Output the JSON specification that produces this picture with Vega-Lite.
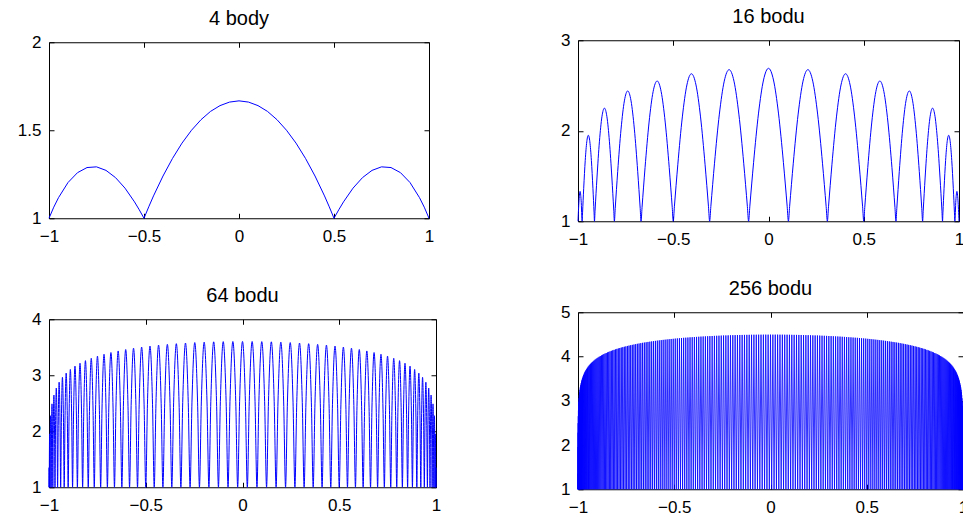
{
"$schema":"https://vega.github.io/schema/vega-lite/v6.json",
"background":"white",
"padding":{"left":16,"top":6,"right":0,"bottom":0},
"config":{
"font":"Liberation Sans",
"view":{"stroke":"black","strokeWidth":1},
"axis":{"domain":false,"grid":false,"ticks":true,"tickSize":-5,"tickColor":"black","tickWidth":1,"labelFont":"Liberation Sans","labelFontSize":17,"labelColor":"black","title":null,"labelPadding":13,"labelFlush":false,"labelOverlap":false,"labelBound":false},
"axisX":{"labelPadding":15},
"title":{"font":"Liberation Sans","fontSize":20,"fontWeight":"normal","color":"black","baseline":"alphabetic","offset":4,"anchor":"middle"}
},
"datasets":{
"d4":[{"x":-1,"y":1},{"x":-0.975,"y":1.063},{"x":-0.95,"y":1.117},{"x":-0.9,"y":1.203},{"x":-0.85,"y":1.259},{"x":-0.8,"y":1.288},{"x":-0.75,"y":1.292},{"x":-0.7,"y":1.272},{"x":-0.65,"y":1.231},{"x":-0.6,"y":1.171},{"x":-0.55,"y":1.093},{"x":-0.525,"y":1.048},{"x":-0.5,"y":1},{"x":-0.475,"y":1.065},{"x":-0.45,"y":1.127},{"x":-0.4,"y":1.24},{"x":-0.35,"y":1.34},{"x":-0.3,"y":1.427},{"x":-0.25,"y":1.5},{"x":-0.2,"y":1.56},{"x":-0.15,"y":1.607},{"x":-0.1,"y":1.64},{"x":-0.05,"y":1.66},{"x":0,"y":1.667},{"x":0.05,"y":1.66},{"x":0.1,"y":1.64},{"x":0.15,"y":1.607},{"x":0.2,"y":1.56},{"x":0.25,"y":1.5},{"x":0.3,"y":1.427},{"x":0.35,"y":1.34},{"x":0.4,"y":1.24},{"x":0.45,"y":1.127},{"x":0.475,"y":1.065},{"x":0.5,"y":1},{"x":0.525,"y":1.048},{"x":0.55,"y":1.093},{"x":0.6,"y":1.171},{"x":0.65,"y":1.231},{"x":0.7,"y":1.272},{"x":0.75,"y":1.292},{"x":0.8,"y":1.288},{"x":0.85,"y":1.259},{"x":0.9,"y":1.203},{"x":0.95,"y":1.117},{"x":0.975,"y":1.063},{"x":1,"y":1}],
"d16":[{"x":-1,"y":1},{"x":-0.99454,"y":1.233},{"x":-0.98908,"y":1.33},{"x":-0.98361,"y":1.233},{"x":-0.97815,"y":1},{"x":-0.97613,"y":1.093},{"x":-0.97008,"y":1.364},{"x":-0.962,"y":1.672},{"x":-0.95393,"y":1.878},{"x":-0.94585,"y":1.95},{"x":-0.93778,"y":1.878},{"x":-0.9297,"y":1.672},{"x":-0.92163,"y":1.364},{"x":-0.91557,"y":1.093},{"x":-0.91355,"y":1},{"x":-0.91028,"y":1.123},{"x":-0.90048,"y":1.478},{"x":-0.88742,"y":1.884},{"x":-0.87435,"y":2.155},{"x":-0.86129,"y":2.25},{"x":-0.84822,"y":2.155},{"x":-0.83516,"y":1.884},{"x":-0.82209,"y":1.478},{"x":-0.81229,"y":1.123},{"x":-0.80902,"y":1},{"x":-0.80465,"y":1.141},{"x":-0.79153,"y":1.551},{"x":-0.77405,"y":2.018},{"x":-0.75656,"y":2.33},{"x":-0.73908,"y":2.44},{"x":-0.72159,"y":2.33},{"x":-0.7041,"y":2.018},{"x":-0.68662,"y":1.551},{"x":-0.6735,"y":1.141},{"x":-0.66913,"y":1},{"x":-0.66385,"y":1.152},{"x":-0.64799,"y":1.593},{"x":-0.62685,"y":2.096},{"x":-0.60571,"y":2.432},{"x":-0.58457,"y":2.55},{"x":-0.56342,"y":2.432},{"x":-0.54228,"y":2.096},{"x":-0.52114,"y":1.593},{"x":-0.50529,"y":1.152},{"x":-0.5,"y":1},{"x":-0.49403,"y":1.16},{"x":-0.47613,"y":1.624},{"x":-0.45225,"y":2.153},{"x":-0.42838,"y":2.506},{"x":-0.40451,"y":2.63},{"x":-0.38064,"y":2.506},{"x":-0.35676,"y":2.153},{"x":-0.33289,"y":1.624},{"x":-0.31499,"y":1.16},{"x":-0.30902,"y":1},{"x":-0.30263,"y":1.164},{"x":-0.28346,"y":1.641},{"x":-0.2579,"y":2.184},{"x":-0.23233,"y":2.548},{"x":-0.20677,"y":2.675},{"x":-0.18121,"y":2.548},{"x":-0.15565,"y":2.184},{"x":-0.13009,"y":1.641},{"x":-0.11092,"y":1.164},{"x":-0.10453,"y":1},{"x":-0.098,"y":1.166},{"x":-0.0784,"y":1.647},{"x":-0.05227,"y":2.195},{"x":-0.02613,"y":2.561},{"x":0,"y":2.69},{"x":0.02613,"y":2.561},{"x":0.05227,"y":2.195},{"x":0.0784,"y":1.647},{"x":0.098,"y":1.166},{"x":0.10453,"y":1},{"x":0.11092,"y":1.164},{"x":0.13009,"y":1.641},{"x":0.15565,"y":2.184},{"x":0.18121,"y":2.548},{"x":0.20677,"y":2.675},{"x":0.23233,"y":2.548},{"x":0.2579,"y":2.184},{"x":0.28346,"y":1.641},{"x":0.30263,"y":1.164},{"x":0.30902,"y":1},{"x":0.31499,"y":1.16},{"x":0.33289,"y":1.624},{"x":0.35676,"y":2.153},{"x":0.38064,"y":2.506},{"x":0.40451,"y":2.63},{"x":0.42838,"y":2.506},{"x":0.45225,"y":2.153},{"x":0.47613,"y":1.624},{"x":0.49403,"y":1.16},{"x":0.5,"y":1},{"x":0.50529,"y":1.152},{"x":0.52114,"y":1.593},{"x":0.54228,"y":2.096},{"x":0.56342,"y":2.432},{"x":0.58457,"y":2.55},{"x":0.60571,"y":2.432},{"x":0.62685,"y":2.096},{"x":0.64799,"y":1.593},{"x":0.66385,"y":1.152},{"x":0.66913,"y":1},{"x":0.6735,"y":1.141},{"x":0.68662,"y":1.551},{"x":0.7041,"y":2.018},{"x":0.72159,"y":2.33},{"x":0.73908,"y":2.44},{"x":0.75656,"y":2.33},{"x":0.77405,"y":2.018},{"x":0.79153,"y":1.551},{"x":0.80465,"y":1.141},{"x":0.80902,"y":1},{"x":0.81229,"y":1.123},{"x":0.82209,"y":1.478},{"x":0.83516,"y":1.884},{"x":0.84822,"y":2.155},{"x":0.86129,"y":2.25},{"x":0.87435,"y":2.155},{"x":0.88742,"y":1.884},{"x":0.90048,"y":1.478},{"x":0.91028,"y":1.123},{"x":0.91355,"y":1},{"x":0.91557,"y":1.093},{"x":0.92163,"y":1.364},{"x":0.9297,"y":1.672},{"x":0.93778,"y":1.878},{"x":0.94585,"y":1.95},{"x":0.95393,"y":1.878},{"x":0.962,"y":1.672},{"x":0.97008,"y":1.364},{"x":0.97613,"y":1.093},{"x":0.97815,"y":1},{"x":0.98361,"y":1.233},{"x":0.98908,"y":1.33},{"x":0.99454,"y":1.233},{"x":1,"y":1}],
"d64":[{"x":-1,"y":1},{"x":-0.99975,"y":1.206},{"x":-0.99938,"y":1.35},{"x":-0.99901,"y":1.206},{"x":-0.99876,"y":1},{"x":-0.99801,"y":1.56},{"x":-0.99689,"y":1.953},{"x":-0.99578,"y":1.56},{"x":-0.99503,"y":1},{"x":-0.99379,"y":1.751},{"x":-0.99193,"y":2.277},{"x":-0.99007,"y":1.751},{"x":-0.98883,"y":1},{"x":-0.9871,"y":1.875},{"x":-0.9845,"y":2.489},{"x":-0.9819,"y":1.875},{"x":-0.98017,"y":1},{"x":-0.97795,"y":1.968},{"x":-0.97463,"y":2.647},{"x":-0.9713,"y":1.968},{"x":-0.96908,"y":1},{"x":-0.96638,"y":2.042},{"x":-0.96233,"y":2.772},{"x":-0.95828,"y":2.042},{"x":-0.95558,"y":1},{"x":-0.9524,"y":2.103},{"x":-0.94764,"y":2.876},{"x":-0.94287,"y":2.103},{"x":-0.93969,"y":1},{"x":-0.93605,"y":2.154},{"x":-0.93059,"y":2.963},{"x":-0.92512,"y":2.154},{"x":-0.92148,"y":1},{"x":-0.91738,"y":2.198},{"x":-0.91122,"y":3.038},{"x":-0.90507,"y":2.198},{"x":-0.90097,"y":1},{"x":-0.89642,"y":2.237},{"x":-0.8896,"y":3.104},{"x":-0.88277,"y":2.237},{"x":-0.87822,"y":1},{"x":-0.87324,"y":2.271},{"x":-0.86576,"y":3.163},{"x":-0.85828,"y":2.271},{"x":-0.85329,"y":1},{"x":-0.84788,"y":2.302},{"x":-0.83977,"y":3.215},{"x":-0.83165,"y":2.302},{"x":-0.82624,"y":1},{"x":-0.82042,"y":2.329},{"x":-0.81169,"y":3.261},{"x":-0.80296,"y":2.329},{"x":-0.79714,"y":1},{"x":-0.79092,"y":2.354},{"x":-0.78159,"y":3.303},{"x":-0.77226,"y":2.354},{"x":-0.76604,"y":1},{"x":-0.75945,"y":2.376},{"x":-0.74955,"y":3.341},{"x":-0.73965,"y":2.376},{"x":-0.73305,"y":1},{"x":-0.72609,"y":2.396},{"x":-0.71564,"y":3.375},{"x":-0.7052,"y":2.396},{"x":-0.69824,"y":1},{"x":-0.69093,"y":2.414},{"x":-0.67996,"y":3.406},{"x":-0.669,"y":2.414},{"x":-0.66169,"y":1},{"x":-0.65405,"y":2.431},{"x":-0.64259,"y":3.434},{"x":-0.63113,"y":2.431},{"x":-0.62349,"y":1},{"x":-0.61554,"y":2.446},{"x":-0.60362,"y":3.46},{"x":-0.59169,"y":2.446},{"x":-0.58374,"y":1},{"x":-0.57551,"y":2.46},{"x":-0.56315,"y":3.483},{"x":-0.55079,"y":2.46},{"x":-0.54255,"y":1},{"x":-0.53404,"y":2.471},{"x":-0.52127,"y":3.503},{"x":-0.50851,"y":2.471},{"x":-0.5,"y":1},{"x":-0.49124,"y":2.482},{"x":-0.47811,"y":3.521},{"x":-0.46497,"y":2.482},{"x":-0.45621,"y":1},{"x":-0.44723,"y":2.492},{"x":-0.43375,"y":3.538},{"x":-0.42027,"y":2.492},{"x":-0.41129,"y":1},{"x":-0.4021,"y":2.5},{"x":-0.38832,"y":3.552},{"x":-0.37453,"y":2.5},{"x":-0.36534,"y":1},{"x":-0.35597,"y":2.507},{"x":-0.34192,"y":3.564},{"x":-0.32786,"y":2.507},{"x":-0.31849,"y":1},{"x":-0.30896,"y":2.514},{"x":-0.29466,"y":3.575},{"x":-0.28037,"y":2.514},{"x":-0.27084,"y":1},{"x":-0.26118,"y":2.519},{"x":-0.24668,"y":3.584},{"x":-0.23218,"y":2.519},{"x":-0.22252,"y":1},{"x":-0.21275,"y":2.523},{"x":-0.19808,"y":3.591},{"x":-0.18342,"y":2.523},{"x":-0.17365,"y":1},{"x":-0.16379,"y":2.527},{"x":-0.149,"y":3.597},{"x":-0.13421,"y":2.527},{"x":-0.12434,"y":1},{"x":-0.11442,"y":2.529},{"x":-0.09954,"y":3.601},{"x":-0.08465,"y":2.529},{"x":-0.07473,"y":1},{"x":-0.06477,"y":2.53},{"x":-0.04983,"y":3.603},{"x":-0.03489,"y":2.53},{"x":-0.02493,"y":1},{"x":-0.01496,"y":2.531},{"x":0,"y":3.604},{"x":0.01496,"y":2.531},{"x":0.02493,"y":1},{"x":0.03489,"y":2.53},{"x":0.04983,"y":3.603},{"x":0.06477,"y":2.53},{"x":0.07473,"y":1},{"x":0.08465,"y":2.529},{"x":0.09954,"y":3.601},{"x":0.11442,"y":2.529},{"x":0.12434,"y":1},{"x":0.13421,"y":2.527},{"x":0.149,"y":3.597},{"x":0.16379,"y":2.527},{"x":0.17365,"y":1},{"x":0.18342,"y":2.523},{"x":0.19808,"y":3.591},{"x":0.21275,"y":2.523},{"x":0.22252,"y":1},{"x":0.23218,"y":2.519},{"x":0.24668,"y":3.584},{"x":0.26118,"y":2.519},{"x":0.27084,"y":1},{"x":0.28037,"y":2.514},{"x":0.29466,"y":3.575},{"x":0.30896,"y":2.514},{"x":0.31849,"y":1},{"x":0.32786,"y":2.507},{"x":0.34192,"y":3.564},{"x":0.35597,"y":2.507},{"x":0.36534,"y":1},{"x":0.37453,"y":2.5},{"x":0.38832,"y":3.552},{"x":0.4021,"y":2.5},{"x":0.41129,"y":1},{"x":0.42027,"y":2.492},{"x":0.43375,"y":3.538},{"x":0.44723,"y":2.492},{"x":0.45621,"y":1},{"x":0.46497,"y":2.482},{"x":0.47811,"y":3.521},{"x":0.49124,"y":2.482},{"x":0.5,"y":1},{"x":0.50851,"y":2.471},{"x":0.52127,"y":3.503},{"x":0.53404,"y":2.471},{"x":0.54255,"y":1},{"x":0.55079,"y":2.46},{"x":0.56315,"y":3.483},{"x":0.57551,"y":2.46},{"x":0.58374,"y":1},{"x":0.59169,"y":2.446},{"x":0.60362,"y":3.46},{"x":0.61554,"y":2.446},{"x":0.62349,"y":1},{"x":0.63113,"y":2.431},{"x":0.64259,"y":3.434},{"x":0.65405,"y":2.431},{"x":0.66169,"y":1},{"x":0.669,"y":2.414},{"x":0.67996,"y":3.406},{"x":0.69093,"y":2.414},{"x":0.69824,"y":1},{"x":0.7052,"y":2.396},{"x":0.71564,"y":3.375},{"x":0.72609,"y":2.396},{"x":0.73305,"y":1},{"x":0.73965,"y":2.376},{"x":0.74955,"y":3.341},{"x":0.75945,"y":2.376},{"x":0.76604,"y":1},{"x":0.77226,"y":2.354},{"x":0.78159,"y":3.303},{"x":0.79092,"y":2.354},{"x":0.79714,"y":1},{"x":0.80296,"y":2.329},{"x":0.81169,"y":3.261},{"x":0.82042,"y":2.329},{"x":0.82624,"y":1},{"x":0.83165,"y":2.302},{"x":0.83977,"y":3.215},{"x":0.84788,"y":2.302},{"x":0.85329,"y":1},{"x":0.85828,"y":2.271},{"x":0.86576,"y":3.163},{"x":0.87324,"y":2.271},{"x":0.87822,"y":1},{"x":0.88277,"y":2.237},{"x":0.8896,"y":3.104},{"x":0.89642,"y":2.237},{"x":0.90097,"y":1},{"x":0.90507,"y":2.198},{"x":0.91122,"y":3.038},{"x":0.91738,"y":2.198},{"x":0.92148,"y":1},{"x":0.92512,"y":2.154},{"x":0.93059,"y":2.963},{"x":0.93605,"y":2.154},{"x":0.93969,"y":1},{"x":0.94287,"y":2.103},{"x":0.94764,"y":2.876},{"x":0.9524,"y":2.103},{"x":0.95558,"y":1},{"x":0.95828,"y":2.042},{"x":0.96233,"y":2.772},{"x":0.96638,"y":2.042},{"x":0.96908,"y":1},{"x":0.9713,"y":1.968},{"x":0.97463,"y":2.647},{"x":0.97795,"y":1.968},{"x":0.98017,"y":1},{"x":0.9819,"y":1.875},{"x":0.9845,"y":2.489},{"x":0.9871,"y":1.875},{"x":0.98883,"y":1},{"x":0.99007,"y":1.751},{"x":0.99193,"y":2.277},{"x":0.99379,"y":1.751},{"x":0.99503,"y":1},{"x":0.99578,"y":1.56},{"x":0.99689,"y":1.953},{"x":0.99801,"y":1.56},{"x":0.99876,"y":1},{"x":0.99901,"y":1.206},{"x":0.99938,"y":1.35},{"x":0.99975,"y":1.206},{"x":1,"y":1}],
"d256":[{"x":-1,"y":1},{"x":-0.99996,"y":1.35},{"x":-0.99992,"y":1},{"x":-0.99981,"y":1.953},{"x":-0.9997,"y":1},{"x":-0.99951,"y":2.278},{"x":-0.99932,"y":1},{"x":-0.99905,"y":2.493},{"x":-0.99879,"y":1},{"x":-0.99845,"y":2.652},{"x":-0.9981,"y":1},{"x":-0.99769,"y":2.78},{"x":-0.99727,"y":1},{"x":-0.99678,"y":2.886},{"x":-0.99628,"y":1},{"x":-0.99572,"y":2.977},{"x":-0.99515,"y":1},{"x":-0.9945,"y":3.056},{"x":-0.99386,"y":1},{"x":-0.99314,"y":3.127},{"x":-0.99242,"y":1},{"x":-0.99163,"y":3.19},{"x":-0.99083,"y":1},{"x":-0.98996,"y":3.248},{"x":-0.98909,"y":1},{"x":-0.98815,"y":3.301},{"x":-0.9872,"y":1},{"x":-0.98618,"y":3.349},{"x":-0.98516,"y":1},{"x":-0.98407,"y":3.394},{"x":-0.98297,"y":1},{"x":-0.98181,"y":3.436},{"x":-0.98064,"y":1},{"x":-0.97939,"y":3.475},{"x":-0.97815,"y":1},{"x":-0.97683,"y":3.512},{"x":-0.97551,"y":1},{"x":-0.97412,"y":3.547},{"x":-0.97273,"y":1},{"x":-0.97126,"y":3.58},{"x":-0.9698,"y":1},{"x":-0.96826,"y":3.611},{"x":-0.96672,"y":1},{"x":-0.96511,"y":3.641},{"x":-0.96349,"y":1},{"x":-0.96181,"y":3.669},{"x":-0.96012,"y":1},{"x":-0.95836,"y":3.696},{"x":-0.95661,"y":1},{"x":-0.95477,"y":3.722},{"x":-0.95294,"y":1},{"x":-0.95104,"y":3.746},{"x":-0.94914,"y":1},{"x":-0.94716,"y":3.77},{"x":-0.94518,"y":1},{"x":-0.94314,"y":3.793},{"x":-0.94109,"y":1},{"x":-0.93897,"y":3.815},{"x":-0.93685,"y":1},{"x":-0.93466,"y":3.836},{"x":-0.93247,"y":1},{"x":-0.93021,"y":3.856},{"x":-0.92795,"y":1},{"x":-0.92562,"y":3.875},{"x":-0.92329,"y":1},{"x":-0.92089,"y":3.894},{"x":-0.91849,"y":1},{"x":-0.91602,"y":3.912},{"x":-0.91355,"y":1},{"x":-0.91101,"y":3.93},{"x":-0.90847,"y":1},{"x":-0.90586,"y":3.947},{"x":-0.90325,"y":1},{"x":-0.90057,"y":3.964},{"x":-0.89789,"y":1},{"x":-0.89515,"y":3.98},{"x":-0.8924,"y":1},{"x":-0.88959,"y":3.995},{"x":-0.88677,"y":1},{"x":-0.88389,"y":4.01},{"x":-0.88101,"y":1},{"x":-0.87806,"y":4.025},{"x":-0.87512,"y":1},{"x":-0.8721,"y":4.039},{"x":-0.86909,"y":1},{"x":-0.86601,"y":4.053},{"x":-0.86293,"y":1},{"x":-0.85978,"y":4.066},{"x":-0.85664,"y":1},{"x":-0.85343,"y":4.079},{"x":-0.85022,"y":1},{"x":-0.84694,"y":4.092},{"x":-0.84367,"y":1},{"x":-0.84033,"y":4.104},{"x":-0.83699,"y":1},{"x":-0.83359,"y":4.116},{"x":-0.83018,"y":1},{"x":-0.82672,"y":4.128},{"x":-0.82325,"y":1},{"x":-0.81973,"y":4.139},{"x":-0.8162,"y":1},{"x":-0.81261,"y":4.15},{"x":-0.80902,"y":1},{"x":-0.80537,"y":4.161},{"x":-0.80172,"y":1},{"x":-0.798,"y":4.172},{"x":-0.79429,"y":1},{"x":-0.79052,"y":4.182},{"x":-0.78674,"y":1},{"x":-0.78291,"y":4.192},{"x":-0.77908,"y":1},{"x":-0.77519,"y":4.202},{"x":-0.7713,"y":1},{"x":-0.76735,"y":4.211},{"x":-0.7634,"y":1},{"x":-0.75939,"y":4.22},{"x":-0.75538,"y":1},{"x":-0.75132,"y":4.229},{"x":-0.74725,"y":1},{"x":-0.74313,"y":4.238},{"x":-0.73901,"y":1},{"x":-0.73483,"y":4.247},{"x":-0.73065,"y":1},{"x":-0.72642,"y":4.255},{"x":-0.72219,"y":1},{"x":-0.7179,"y":4.263},{"x":-0.71361,"y":1},{"x":-0.70927,"y":4.271},{"x":-0.70493,"y":1},{"x":-0.70053,"y":4.279},{"x":-0.69614,"y":1},{"x":-0.69169,"y":4.287},{"x":-0.68724,"y":1},{"x":-0.68274,"y":4.294},{"x":-0.67824,"y":1},{"x":-0.67368,"y":4.302},{"x":-0.66913,"y":1},{"x":-0.66453,"y":4.309},{"x":-0.65993,"y":1},{"x":-0.65527,"y":4.315},{"x":-0.65062,"y":1},{"x":-0.64592,"y":4.322},{"x":-0.64121,"y":1},{"x":-0.63646,"y":4.329},{"x":-0.63171,"y":1},{"x":-0.62691,"y":4.335},{"x":-0.62211,"y":1},{"x":-0.61727,"y":4.341},{"x":-0.61242,"y":1},{"x":-0.60753,"y":4.347},{"x":-0.60264,"y":1},{"x":-0.5977,"y":4.353},{"x":-0.59276,"y":1},{"x":-0.58778,"y":4.359},{"x":-0.58279,"y":1},{"x":-0.57776,"y":4.365},{"x":-0.57274,"y":1},{"x":-0.56766,"y":4.37},{"x":-0.56259,"y":1},{"x":-0.55748,"y":4.376},{"x":-0.55237,"y":1},{"x":-0.54721,"y":4.381},{"x":-0.54205,"y":1},{"x":-0.53686,"y":4.386},{"x":-0.53166,"y":1},{"x":-0.52642,"y":4.391},{"x":-0.52119,"y":1},{"x":-0.51591,"y":4.396},{"x":-0.51063,"y":1},{"x":-0.50532,"y":4.4},{"x":-0.5,"y":1},{"x":-0.49465,"y":4.405},{"x":-0.48929,"y":1},{"x":-0.4839,"y":4.409},{"x":-0.47851,"y":1},{"x":-0.47309,"y":4.413},{"x":-0.46766,"y":1},{"x":-0.4622,"y":4.418},{"x":-0.45673,"y":1},{"x":-0.45124,"y":4.422},{"x":-0.44574,"y":1},{"x":-0.44021,"y":4.425},{"x":-0.43468,"y":1},{"x":-0.42911,"y":4.429},{"x":-0.42355,"y":1},{"x":-0.41795,"y":4.433},{"x":-0.41236,"y":1},{"x":-0.40673,"y":4.436},{"x":-0.4011,"y":1},{"x":-0.39544,"y":4.44},{"x":-0.38979,"y":1},{"x":-0.3841,"y":4.443},{"x":-0.37841,"y":1},{"x":-0.3727,"y":4.446},{"x":-0.36698,"y":1},{"x":-0.36124,"y":4.45},{"x":-0.35549,"y":1},{"x":-0.34972,"y":4.453},{"x":-0.34395,"y":1},{"x":-0.33815,"y":4.455},{"x":-0.33236,"y":1},{"x":-0.32653,"y":4.458},{"x":-0.32071,"y":1},{"x":-0.31486,"y":4.461},{"x":-0.30902,"y":1},{"x":-0.30315,"y":4.463},{"x":-0.29728,"y":1},{"x":-0.29138,"y":4.466},{"x":-0.28549,"y":1},{"x":-0.27958,"y":4.468},{"x":-0.27366,"y":1},{"x":-0.26773,"y":4.47},{"x":-0.26179,"y":1},{"x":-0.25584,"y":4.473},{"x":-0.24988,"y":1},{"x":-0.24391,"y":4.475},{"x":-0.23794,"y":1},{"x":-0.23194,"y":4.476},{"x":-0.22595,"y":1},{"x":-0.21994,"y":4.478},{"x":-0.21393,"y":1},{"x":-0.20791,"y":4.48},{"x":-0.20188,"y":1},{"x":-0.19584,"y":4.482},{"x":-0.1898,"y":1},{"x":-0.18375,"y":4.483},{"x":-0.17769,"y":1},{"x":-0.17162,"y":4.485},{"x":-0.16555,"y":1},{"x":-0.15947,"y":4.486},{"x":-0.15339,"y":1},{"x":-0.1473,"y":4.487},{"x":-0.14121,"y":1},{"x":-0.1351,"y":4.488},{"x":-0.129,"y":1},{"x":-0.12289,"y":4.489},{"x":-0.11677,"y":1},{"x":-0.11065,"y":4.49},{"x":-0.10453,"y":1},{"x":-0.0984,"y":4.491},{"x":-0.09227,"y":1},{"x":-0.08613,"y":4.492},{"x":-0.07999,"y":1},{"x":-0.07385,"y":4.492},{"x":-0.06771,"y":1},{"x":-0.06156,"y":4.493},{"x":-0.05541,"y":1},{"x":-0.04926,"y":4.493},{"x":-0.04311,"y":1},{"x":-0.03695,"y":4.494},{"x":-0.0308,"y":1},{"x":-0.02464,"y":4.494},{"x":-0.01848,"y":1},{"x":-0.01232,"y":4.494},{"x":-0.00616,"y":1},{"x":0,"y":4.494},{"x":0.00616,"y":1},{"x":0.01232,"y":4.494},{"x":0.01848,"y":1},{"x":0.02464,"y":4.494},{"x":0.0308,"y":1},{"x":0.03695,"y":4.494},{"x":0.04311,"y":1},{"x":0.04926,"y":4.493},{"x":0.05541,"y":1},{"x":0.06156,"y":4.493},{"x":0.06771,"y":1},{"x":0.07385,"y":4.492},{"x":0.07999,"y":1},{"x":0.08613,"y":4.492},{"x":0.09227,"y":1},{"x":0.0984,"y":4.491},{"x":0.10453,"y":1},{"x":0.11065,"y":4.49},{"x":0.11677,"y":1},{"x":0.12289,"y":4.489},{"x":0.129,"y":1},{"x":0.1351,"y":4.488},{"x":0.14121,"y":1},{"x":0.1473,"y":4.487},{"x":0.15339,"y":1},{"x":0.15947,"y":4.486},{"x":0.16555,"y":1},{"x":0.17162,"y":4.485},{"x":0.17769,"y":1},{"x":0.18375,"y":4.483},{"x":0.1898,"y":1},{"x":0.19584,"y":4.482},{"x":0.20188,"y":1},{"x":0.20791,"y":4.48},{"x":0.21393,"y":1},{"x":0.21994,"y":4.478},{"x":0.22595,"y":1},{"x":0.23194,"y":4.476},{"x":0.23794,"y":1},{"x":0.24391,"y":4.475},{"x":0.24988,"y":1},{"x":0.25584,"y":4.473},{"x":0.26179,"y":1},{"x":0.26773,"y":4.47},{"x":0.27366,"y":1},{"x":0.27958,"y":4.468},{"x":0.28549,"y":1},{"x":0.29138,"y":4.466},{"x":0.29728,"y":1},{"x":0.30315,"y":4.463},{"x":0.30902,"y":1},{"x":0.31486,"y":4.461},{"x":0.32071,"y":1},{"x":0.32653,"y":4.458},{"x":0.33236,"y":1},{"x":0.33815,"y":4.455},{"x":0.34395,"y":1},{"x":0.34972,"y":4.453},{"x":0.35549,"y":1},{"x":0.36124,"y":4.45},{"x":0.36698,"y":1},{"x":0.3727,"y":4.446},{"x":0.37841,"y":1},{"x":0.3841,"y":4.443},{"x":0.38979,"y":1},{"x":0.39544,"y":4.44},{"x":0.4011,"y":1},{"x":0.40673,"y":4.436},{"x":0.41236,"y":1},{"x":0.41795,"y":4.433},{"x":0.42355,"y":1},{"x":0.42911,"y":4.429},{"x":0.43468,"y":1},{"x":0.44021,"y":4.425},{"x":0.44574,"y":1},{"x":0.45124,"y":4.422},{"x":0.45673,"y":1},{"x":0.4622,"y":4.418},{"x":0.46766,"y":1},{"x":0.47309,"y":4.413},{"x":0.47851,"y":1},{"x":0.4839,"y":4.409},{"x":0.48929,"y":1},{"x":0.49465,"y":4.405},{"x":0.5,"y":1},{"x":0.50532,"y":4.4},{"x":0.51063,"y":1},{"x":0.51591,"y":4.396},{"x":0.52119,"y":1},{"x":0.52642,"y":4.391},{"x":0.53166,"y":1},{"x":0.53686,"y":4.386},{"x":0.54205,"y":1},{"x":0.54721,"y":4.381},{"x":0.55237,"y":1},{"x":0.55748,"y":4.376},{"x":0.56259,"y":1},{"x":0.56766,"y":4.37},{"x":0.57274,"y":1},{"x":0.57776,"y":4.365},{"x":0.58279,"y":1},{"x":0.58778,"y":4.359},{"x":0.59276,"y":1},{"x":0.5977,"y":4.353},{"x":0.60264,"y":1},{"x":0.60753,"y":4.347},{"x":0.61242,"y":1},{"x":0.61727,"y":4.341},{"x":0.62211,"y":1},{"x":0.62691,"y":4.335},{"x":0.63171,"y":1},{"x":0.63646,"y":4.329},{"x":0.64121,"y":1},{"x":0.64592,"y":4.322},{"x":0.65062,"y":1},{"x":0.65527,"y":4.315},{"x":0.65993,"y":1},{"x":0.66453,"y":4.309},{"x":0.66913,"y":1},{"x":0.67368,"y":4.302},{"x":0.67824,"y":1},{"x":0.68274,"y":4.294},{"x":0.68724,"y":1},{"x":0.69169,"y":4.287},{"x":0.69614,"y":1},{"x":0.70053,"y":4.279},{"x":0.70493,"y":1},{"x":0.70927,"y":4.271},{"x":0.71361,"y":1},{"x":0.7179,"y":4.263},{"x":0.72219,"y":1},{"x":0.72642,"y":4.255},{"x":0.73065,"y":1},{"x":0.73483,"y":4.247},{"x":0.73901,"y":1},{"x":0.74313,"y":4.238},{"x":0.74725,"y":1},{"x":0.75132,"y":4.229},{"x":0.75538,"y":1},{"x":0.75939,"y":4.22},{"x":0.7634,"y":1},{"x":0.76735,"y":4.211},{"x":0.7713,"y":1},{"x":0.77519,"y":4.202},{"x":0.77908,"y":1},{"x":0.78291,"y":4.192},{"x":0.78674,"y":1},{"x":0.79052,"y":4.182},{"x":0.79429,"y":1},{"x":0.798,"y":4.172},{"x":0.80172,"y":1},{"x":0.80537,"y":4.161},{"x":0.80902,"y":1},{"x":0.81261,"y":4.15},{"x":0.8162,"y":1},{"x":0.81973,"y":4.139},{"x":0.82325,"y":1},{"x":0.82672,"y":4.128},{"x":0.83018,"y":1},{"x":0.83359,"y":4.116},{"x":0.83699,"y":1},{"x":0.84033,"y":4.104},{"x":0.84367,"y":1},{"x":0.84694,"y":4.092},{"x":0.85022,"y":1},{"x":0.85343,"y":4.079},{"x":0.85664,"y":1},{"x":0.85978,"y":4.066},{"x":0.86293,"y":1},{"x":0.86601,"y":4.053},{"x":0.86909,"y":1},{"x":0.8721,"y":4.039},{"x":0.87512,"y":1},{"x":0.87806,"y":4.025},{"x":0.88101,"y":1},{"x":0.88389,"y":4.01},{"x":0.88677,"y":1},{"x":0.88959,"y":3.995},{"x":0.8924,"y":1},{"x":0.89515,"y":3.98},{"x":0.89789,"y":1},{"x":0.90057,"y":3.964},{"x":0.90325,"y":1},{"x":0.90586,"y":3.947},{"x":0.90847,"y":1},{"x":0.91101,"y":3.93},{"x":0.91355,"y":1},{"x":0.91602,"y":3.912},{"x":0.91849,"y":1},{"x":0.92089,"y":3.894},{"x":0.92329,"y":1},{"x":0.92562,"y":3.875},{"x":0.92795,"y":1},{"x":0.93021,"y":3.856},{"x":0.93247,"y":1},{"x":0.93466,"y":3.836},{"x":0.93685,"y":1},{"x":0.93897,"y":3.815},{"x":0.94109,"y":1},{"x":0.94314,"y":3.793},{"x":0.94518,"y":1},{"x":0.94716,"y":3.77},{"x":0.94914,"y":1},{"x":0.95104,"y":3.746},{"x":0.95294,"y":1},{"x":0.95477,"y":3.722},{"x":0.95661,"y":1},{"x":0.95836,"y":3.696},{"x":0.96012,"y":1},{"x":0.96181,"y":3.669},{"x":0.96349,"y":1},{"x":0.96511,"y":3.641},{"x":0.96672,"y":1},{"x":0.96826,"y":3.611},{"x":0.9698,"y":1},{"x":0.97126,"y":3.58},{"x":0.97273,"y":1},{"x":0.97412,"y":3.547},{"x":0.97551,"y":1},{"x":0.97683,"y":3.512},{"x":0.97815,"y":1},{"x":0.97939,"y":3.475},{"x":0.98064,"y":1},{"x":0.98181,"y":3.436},{"x":0.98297,"y":1},{"x":0.98407,"y":3.394},{"x":0.98516,"y":1},{"x":0.98618,"y":3.349},{"x":0.9872,"y":1},{"x":0.98815,"y":3.301},{"x":0.98909,"y":1},{"x":0.98996,"y":3.248},{"x":0.99083,"y":1},{"x":0.99163,"y":3.19},{"x":0.99242,"y":1},{"x":0.99314,"y":3.127},{"x":0.99386,"y":1},{"x":0.9945,"y":3.056},{"x":0.99515,"y":1},{"x":0.99572,"y":2.977},{"x":0.99628,"y":1},{"x":0.99678,"y":2.886},{"x":0.99727,"y":1},{"x":0.99769,"y":2.78},{"x":0.9981,"y":1},{"x":0.99845,"y":2.652},{"x":0.99879,"y":1},{"x":0.99905,"y":2.493},{"x":0.99932,"y":1},{"x":0.99951,"y":2.278},{"x":0.9997,"y":1},{"x":0.99981,"y":1.953},{"x":0.99992,"y":1},{"x":0.99996,"y":1.35},{"x":1,"y":1}]
},
"hconcat":[
{"vconcat":[
{"width":380,"height":176,"title":"4 body",
"layer":[
{"data":{"name":"d4"},"mark":{"type":"line","color":"#0000ff","strokeWidth":1},
"encoding":{"x":{"field":"x","type":"quantitative","scale":{"domain":[-1,1],"nice":false,"zero":false},"axis":{"orient":"bottom","values":[-1,-0.5,0,0.5,1],"format":"~g"}},
"y":{"field":"y","type":"quantitative","scale":{"domain":[1,2],"nice":false,"zero":false},"axis":{"orient":"left","values":[1,1.5,2],"format":"~g"}}}},
{"data":{"values":[{"x":0,"y":1}]},"mark":{"type":"point","opacity":0},
"encoding":{"x":{"field":"x","type":"quantitative","axis":{"orient":"top","labels":false,"values":[-1,-0.5,0,0.5,1]}},
"y":{"field":"y","type":"quantitative","axis":{"orient":"right","labels":false,"values":[1,1.5,2]}}}}
],
"resolve":{"axis":{"x":"independent","y":"independent"}}},
{"width":387,"height":168,"title":"64 bodu",
"layer":[
{"data":{"name":"d64"},"mark":{"type":"line","color":"#0000ff","strokeWidth":1,"interpolate":"monotone"},
"encoding":{"x":{"field":"x","type":"quantitative","scale":{"domain":[-1,1],"nice":false,"zero":false},"axis":{"orient":"bottom","values":[-1,-0.5,0,0.5,1],"format":"~g"}},
"y":{"field":"y","type":"quantitative","scale":{"domain":[1,4],"nice":false,"zero":false},"axis":{"orient":"left","values":[1,2,3,4],"format":"~g"}}}},
{"data":{"values":[{"x":0,"y":1}]},"mark":{"type":"point","opacity":0},
"encoding":{"x":{"field":"x","type":"quantitative","axis":{"orient":"top","labels":false,"values":[-1,-0.5,0,0.5,1]}},
"y":{"field":"y","type":"quantitative","axis":{"orient":"right","labels":false,"values":[1,2,3,4]}}}}
],
"resolve":{"axis":{"x":"independent","y":"independent"}}}
],"spacing":101,"bounds":"flush"},
{"vconcat":[
{"width":381,"height":181,"title":"16 bodu",
"layer":[
{"data":{"name":"d16"},"mark":{"type":"line","color":"#0000ff","strokeWidth":1,"interpolate":"monotone"},
"encoding":{"x":{"field":"x","type":"quantitative","scale":{"domain":[-1,1],"nice":false,"zero":false},"axis":{"orient":"bottom","values":[-1,-0.5,0,0.5,1],"format":"~g"}},
"y":{"field":"y","type":"quantitative","scale":{"domain":[1,3],"nice":false,"zero":false},"axis":{"orient":"left","values":[1,2,3],"format":"~g"}}}},
{"data":{"values":[{"x":0,"y":1}]},"mark":{"type":"point","opacity":0},
"encoding":{"x":{"field":"x","type":"quantitative","axis":{"orient":"top","labels":false,"values":[-1,-0.5,0,0.5,1]}},
"y":{"field":"y","type":"quantitative","axis":{"orient":"right","labels":false,"values":[1,2,3]}}}}
],
"resolve":{"axis":{"x":"independent","y":"independent"}}},
{"width":385,"height":177,"title":"256 bodu",
"layer":[
{"data":{"name":"d256"},"mark":{"type":"line","color":"#0000ff","strokeWidth":0.8},
"encoding":{"x":{"field":"x","type":"quantitative","scale":{"domain":[-1,1],"nice":false,"zero":false},"axis":{"orient":"bottom","values":[-1,-0.5,0,0.5,1],"format":"~g"}},
"y":{"field":"y","type":"quantitative","scale":{"domain":[1,5],"nice":false,"zero":false},"axis":{"orient":"left","values":[1,2,3,4,5],"format":"~g"}}}},
{"data":{"values":[{"x":0,"y":1}]},"mark":{"type":"point","opacity":0},
"encoding":{"x":{"field":"x","type":"quantitative","axis":{"orient":"top","labels":false,"values":[-1,-0.5,0,0.5,1]}},
"y":{"field":"y","type":"quantitative","axis":{"orient":"right","labels":false,"values":[1,2,3,4,5]}}}}
],
"resolve":{"axis":{"x":"independent","y":"independent"}}}
],"spacing":91,"bounds":"flush"}
],
"spacing":118,"center":true
}
